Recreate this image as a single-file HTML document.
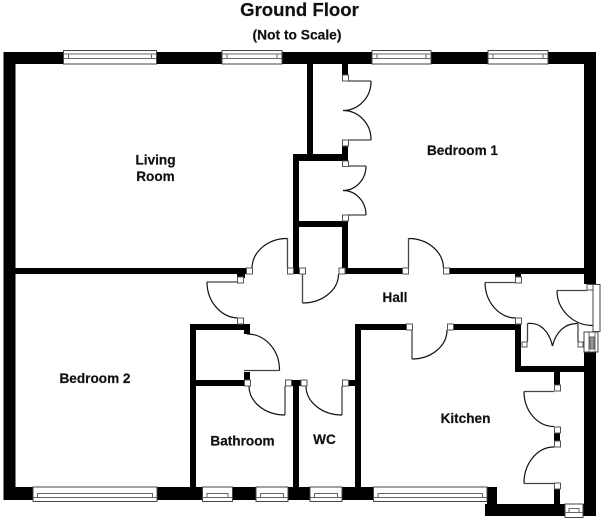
<!DOCTYPE html>
<html>
<head>
<meta charset="utf-8">
<style>
html,body{margin:0;padding:0;background:#fff;width:608px;height:520px;overflow:hidden}
svg{display:block}
text{font-family:"Liberation Sans",Arial,sans-serif;font-weight:bold;fill:#111;stroke:#111;stroke-width:.2;text-anchor:middle}
.l{font-size:13.6px}
.arc{fill:none;stroke:#111;stroke-width:1.2}
.leaf{fill:none;stroke:#444;stroke-width:1.3}
.b{fill:#fff;stroke:#555;stroke-width:1}
.w{fill:#fff;stroke:#444;stroke-width:1}
.wi{fill:#fff;stroke:#666;stroke-width:1}
</style>
</head>
<body>
<svg width="608" height="520" viewBox="0 0 608 520" xmlns="http://www.w3.org/2000/svg">
<rect width="608" height="520" fill="#fff"/>
<text x="299.500" y="16" font-size="18.6">Ground Floor</text>
<text x="297" y="39.500" font-size="13.800">(Not to Scale)</text>

<g fill="#000">
<!-- outer walls -->
<rect x="3.500" y="52" width="592" height="12"/>
<rect x="3.500" y="52" width="12" height="448"/>
<rect x="584" y="52" width="12" height="232"/>
<rect x="584" y="352" width="12" height="164"/>
<rect x="3.500" y="487" width="484" height="13"/>
<rect x="487" y="487" width="10" height="29"/>
<rect x="485" y="504" width="111" height="12"/>
<!-- living / bedroom 2 -->
<rect x="15" y="268" width="231" height="6"/>
<rect x="237" y="268" width="8" height="10"/>
<!-- cupboards -->
<rect x="307" y="64" width="6" height="92"/>
<rect x="293" y="154" width="55" height="7"/>
<rect x="293" y="154" width="6" height="116"/>
<rect x="293" y="221" width="55" height="6"/>
<rect x="342" y="64" width="6" height="12"/>
<rect x="342" y="140" width="6" height="20"/>
<rect x="342" y="221" width="6" height="48"/>
<!-- hall walls -->
<rect x="287" y="268" width="14" height="6"/>
<rect x="342" y="268" width="62" height="6"/>
<rect x="444" y="268" width="140" height="6"/>
<rect x="515" y="274" width="6" height="4"/>
<!-- bathroom -->
<rect x="190" y="324" width="60" height="6"/>
<rect x="244" y="324" width="6" height="10"/>
<rect x="190" y="324" width="6" height="165"/>
<rect x="190" y="380" width="56" height="6"/>
<rect x="244" y="372" width="6" height="10"/>
<!-- wc -->
<rect x="289" y="380" width="14" height="6"/>
<rect x="293" y="380" width="6" height="108"/>
<rect x="346" y="380" width="10" height="6"/>
<rect x="355" y="324" width="6" height="165"/>
<!-- kitchen -->
<rect x="355" y="324" width="54" height="6"/>
<rect x="450" y="324" width="71" height="6"/>
<rect x="515" y="324" width="6" height="48"/>
<rect x="515" y="366" width="69" height="6"/>
<rect x="554" y="372" width="6" height="14"/>
<rect x="554" y="432" width="6" height="10"/>
<rect x="554" y="488" width="6" height="17"/>
</g>

<!-- door leaves & arcs -->
<path class="leaf" d="M287.500 268V238.500M302.500 274V303M207 282H237M244 370.500H279.500M285 386V415M342 386V415M408.500 268V238.500M412 330V359M485 282.500H515M527.500 342V323.500M578 342V324M557 290.500H587M524 391.500H554M524 483.500H554"/>
<path class="arc" d="M252 268A35 30 0 0 1 287.500 238.500"/>
<path class="arc" d="M302.500 303A36 29 0 0 0 338.500 274"/>
<path class="arc" d="M207 282A32 36 0 0 0 238 318"/>
<path class="arc" d="M247 334A32 36 0 0 1 279.500 370.500"/>
<path class="arc" d="M249 386A36 29 0 0 0 285 415"/>
<path class="arc" d="M306 386A36 29 0 0 0 342 415"/>
<path class="arc" d="M408.500 238.500A35 30 0 0 1 443.500 268"/>
<path class="arc" d="M412 359A35 29 0 0 0 447 330"/>
<path class="arc" d="M485 282.500A31 36 0 0 0 516 318"/>
<path class="arc" d="M527.500 323.500C540 322 549 331 552.500 346C556 331 566 323 578 323.500"/>
<path class="arc" d="M557 290.500A36 35 0 0 0 593 325.500"/>
<path class="arc" d="M524 391.500A30 35 0 0 0 554 426.500"/>
<path class="arc" d="M554 447A30 36 0 0 0 524 483.500"/>
<!-- wardrobe doors (Bedroom 1) -->
<path class="leaf" d="M348 81H371M348 140H371M348 166H366M348 215H366"/>
<path class="arc" d="M371 81A28 29 0 0 1 343 110.500A28 29 0 0 1 371 140"/>
<path class="arc" d="M366 166A23 24.500 0 0 1 343 190.500A23 24.500 0 0 1 366 215"/>

<!-- hinge boxes -->
<g class="b">
<rect x="342.500" y="75" width="6" height="6"/>
<rect x="342.500" y="140" width="6" height="6"/>
<rect x="342.500" y="161" width="6" height="5.500"/>
<rect x="342.500" y="215" width="6" height="6"/>
<rect x="246.500" y="268" width="6" height="6"/>
<rect x="287.500" y="268" width="6" height="6"/>
<rect x="299.500" y="268" width="6" height="6"/>
<rect x="339" y="268" width="6" height="6"/>
<rect x="402.500" y="268" width="6" height="6"/>
<rect x="443.500" y="268" width="6" height="6"/>
<rect x="237.500" y="277" width="6" height="6"/>
<rect x="237.500" y="318" width="6" height="6"/>
<rect x="244.500" y="380" width="6" height="6"/>
<rect x="285.500" y="380" width="6" height="6"/>
<rect x="301" y="380" width="6" height="6"/>
<rect x="342.500" y="380" width="6" height="6"/>
<rect x="406.500" y="324" width="6" height="6"/>
<rect x="447.500" y="324" width="6" height="6"/>
<rect x="515.500" y="277" width="6" height="6"/>
<rect x="515.500" y="318" width="6" height="6"/>
<rect x="522" y="342" width="5" height="5"/>
<rect x="578" y="342" width="5" height="5"/>
<rect x="587" y="284.500" width="6" height="5.500"/>
<rect x="554.500" y="385" width="6" height="6"/>
<rect x="554.500" y="427" width="6" height="6"/>
<rect x="554.500" y="441" width="6" height="6"/>
<rect x="554.500" y="483" width="6" height="6"/>
</g>

<!-- top windows -->
<g>
<rect class="w" x="63.500" y="50.500" width="93" height="13.500"/><path class="wi" d="M63.500 58.500H156.500M63.500 54H156.500"/><rect class="wi" x="68.500" y="54" width="83" height="4.500"/>
<rect class="w" x="222" y="50.500" width="60" height="13.500"/><path class="wi" d="M222 58.500H282M222 54H282"/><rect class="wi" x="227" y="54" width="50" height="4.500"/>
<rect class="w" x="372" y="50.500" width="59" height="13.500"/><path class="wi" d="M372 58.500H431M372 54H431"/><rect class="wi" x="377" y="54" width="49" height="4.500"/>
<rect class="w" x="488" y="50.500" width="60" height="13.500"/><path class="wi" d="M488 58.500H548M488 54H548"/><rect class="wi" x="493" y="54" width="50" height="4.500"/>
</g>
<!-- bottom windows -->
<g>
<rect class="w" x="33" y="487" width="124" height="14.500"/><path class="wi" d="M33 497.500H157"/><rect class="wi" x="37.500" y="493.500" width="115" height="4"/>
<rect class="w" x="202.500" y="487" width="30" height="14.500"/><path class="wi" d="M202.500 497.500H232.500"/><rect class="wi" x="207" y="493.500" width="21" height="4"/>
<rect class="w" x="256" y="487" width="32" height="14.500"/><path class="wi" d="M256 497.500H288"/><rect class="wi" x="260.500" y="493.500" width="23" height="4"/>
<rect class="w" x="310" y="487" width="32" height="14.500"/><path class="wi" d="M310 497.500H342"/><rect class="wi" x="314.500" y="493.500" width="23" height="4"/>
<rect class="w" x="373.500" y="487" width="113.500" height="14.500"/><path class="wi" d="M373.500 497.500H487"/><rect class="wi" x="378" y="493.500" width="104.500" height="4"/>
<rect class="w" x="565" y="504" width="18" height="13.500"/><path class="wi" d="M565 512.500H583M569 508.500H579V512.500M569 508.500V512.500"/>
</g>
<!-- entrance side -->
<rect class="w" x="593" y="284.500" width="7" height="47"/>
<rect class="w" x="584" y="332" width="14" height="20"/>
<rect x="590" y="337" width="4" height="12" fill="#999" stroke="#444" stroke-width="0.800"/>
<path class="wi" d="M589 332V352M595 332V352M589 337H595"/>

<text class="l" x="155.500" y="164.500">Living</text>
<text class="l" x="155.500" y="181">Room</text>
<text class="l" x="462.500" y="155">Bedroom 1</text>
<text class="l" x="95" y="383">Bedroom 2</text>
<text class="l" x="242.500" y="445.500">Bathroom</text>
<text class="l" x="324.500" y="444">WC</text>
<text class="l" x="465.500" y="423">Kitchen</text>
<text class="l" x="395" y="302">Hall</text>
</svg>
</body>
</html>
